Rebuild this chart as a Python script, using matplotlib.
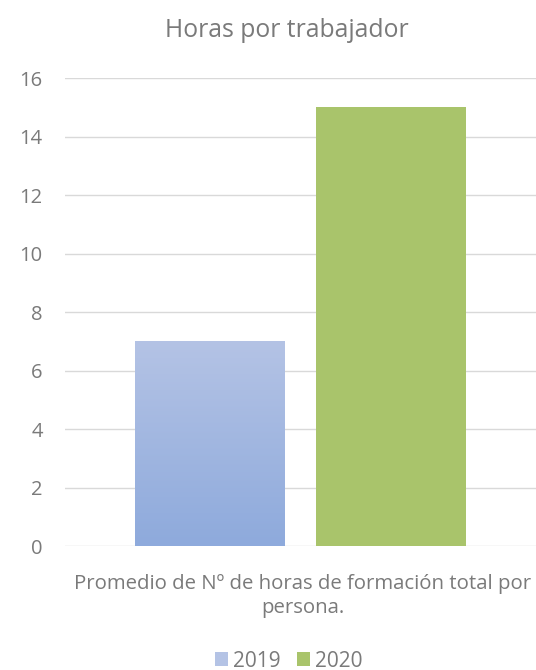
import numpy as np
import matplotlib.pyplot as plt
from matplotlib.colors import LinearSegmentedColormap
from matplotlib.patches import Patch

plt.rcParams['font.family'] = ['Open Sans', 'DejaVu Sans']

years = ['2019', '2020']
hours = [7, 15]
positions = [-0.385, 0.385]
yticks = [0, 2, 4, 6, 8, 10, 12, 14, 16]
category_lines = ['Promedio de Nº de horas de formación total por', 'persona.']

text_gray = '#7a7a7a'
blue_top, blue_bottom = '#b4c3e5', '#8eaadc'
green = '#a9c46b'

fig = plt.figure(figsize=(5.36, 6.70), dpi=100)
ax = fig.add_axes([0.1213, 0.185, 0.878, 0.6985])

width = 0.637
bars = ax.bar(positions, hours, width=width, color=[blue_bottom, green], zorder=2)

# vertical gradient on the 2019 bar
b = bars[0]
cmap = LinearSegmentedColormap.from_list('blue_grad', [blue_bottom, blue_top])
grad = np.linspace(0, 1, 256).reshape(-1, 1)
x0, y0 = b.get_x(), b.get_y()
im = ax.imshow(grad, cmap=cmap, origin='lower', aspect='auto',
               extent=[x0, x0 + b.get_width(), y0, y0 + b.get_height()], zorder=3)
im.set_clip_path(b)

ax.set_xlim(-1, 1)
ax.set_ylim(0, 16)
ax.set_yticks(yticks)
ax.set_xticks([])
ax.grid(axis='y', color='#d9d9d9', linewidth=1, zorder=0)
for s in ax.spines.values():
    s.set_visible(False)
ax.tick_params(axis='y', length=0, pad=16, labelsize=14.5, labelcolor=text_gray)

fig.text(0.5345, 0.955, 'Horas por trabajador', ha='center', va='center',
         fontsize=17.8, color=text_gray)

# category label, one line per text so both lines stay centred
for i, line in enumerate(category_lines):
    fig.text(0.565, 0.128 - i * 0.036, line, ha='center', va='center',
             fontsize=14.7, color=text_gray)

handles = [Patch(facecolor=blue_top, edgecolor='none'),
           Patch(facecolor=green, edgecolor='none')]
fig.legend(handles, years, loc='center', bbox_to_anchor=(0.539, 0.0134), ncol=2,
           frameon=False, fontsize=15, labelcolor=text_gray, handlelength=0.6,
           handleheight=0.65, handletextpad=0.25, columnspacing=0.8,
           borderpad=0, borderaxespad=0)

fig.savefig('out.png', dpi=100, facecolor='white')
